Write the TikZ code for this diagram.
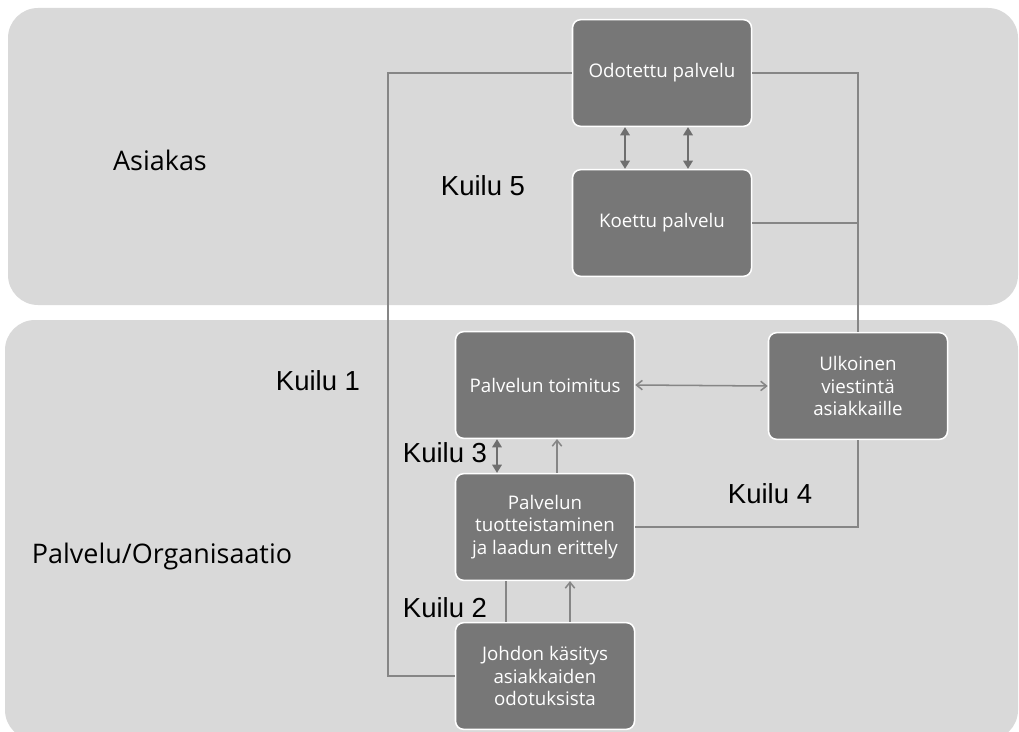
\documentclass[tikz,border=0pt]{standalone}
\usepackage{fontspec}
\setmainfont{Liberation Sans}
\newfontfamily\boxfont{Open Sans}
\usetikzlibrary{arrows.meta,calc}

\definecolor{bandgray}{HTML}{D9D9D9}
\definecolor{boxgray}{HTML}{777777}
\definecolor{linegray}{HTML}{868686}
\definecolor{arrowgray}{HTML}{6E6E6E}

\begin{document}
\begin{tikzpicture}[x=0.03cm, y=-0.03cm,
  stage/.style={draw=white, line width=1.3pt, fill=boxgray, rounded corners=7pt,
    minimum width=5.37cm, minimum height=3.2cm, text=white, align=center,
    font=\boxfont\fontsize{16}{19.2}\selectfont},
  gap/.style={font=\fontsize{23.5}{28}\selectfont},
  side/.style={font=\boxfont\fontsize{23}{28}\selectfont},
  conn/.style={draw=linegray, line width=1.3pt},
  thin arrow/.style={conn, {Straight Barb[length=5pt,width=8pt]}-{Straight Barb[length=5pt,width=8pt]}},
  up arrow/.style={conn, -{Straight Barb[length=5pt,width=8pt]}},
  thick arrow/.style={draw=arrowgray, line width=2.4pt, {Triangle[length=7pt,width=8pt]}-{Triangle[length=7pt,width=8pt]}}]
\useasboundingbox (0,0) rectangle (1019,731);
\clip (0,0) rectangle (1019,731);

% Bands
\fill[bandgray, rounded corners=0.9cm] (8,8) rectangle (1018,305);
\fill[bandgray, rounded corners=0.9cm] (5,320) rectangle (1018,740);

% Boxes
\node[stage] (odot) at (662,73) {Odotettu palvelu};
\node[stage] (koet) at (662,223) {Koettu palvelu};
\node[stage] (toim) at (545,385) {Palvelun toimitus};
\node[stage] (ulk) at (858,386) {Ulkoinen\\viestintä\\asiakkaille};
\node[stage] (tuot) at (545,527) {Palvelun\\tuotteistaminen\\ja laadun erittely};
\node[stage] (johd) at (545,676) {Johdon käsitys\\asiakkaiden\\odotuksista};

% Labels
\node[side] (asiakas) at (160,160) {Asiakas};
\node[side] (org) at (162,556) {Palvelu/Organisaatio};
\node[gap] (k5) at (483,186) {Kuilu 5};
\node[gap] (k1) at (318,381) {Kuilu 1};
\node[gap] (k3) at (445,453) {Kuilu 3};
\node[gap] (k4) at (770,494) {Kuilu 4};
\node[gap] (k2) at (445,608) {Kuilu 2};

% Kuilu 1 line
\coordinate (k1corner) at (388,676);
\draw[conn] (odot.west) -| (k1corner) -- (johd.west);

% Kuilu 4 lines
\draw[conn] (odot.east) -| (ulk.north);
\draw[conn] (koet.east) -- (koet.east -| ulk.north);
\draw[conn] (tuot.east) -| (ulk.south);

% Kuilu 5 arrows
\foreach \dx in {-37,26}
  \draw[thick arrow] ($(odot.south)+(\dx,0)$) -- ($(koet.north)+(\dx,0)$);

% Delivery and communication
\draw[thin arrow] (toim.east) -- (ulk.west);

% Kuilu 3
\draw[thick arrow, line width=1.7pt] ($(toim.south)+(-48,0)$) -- ($(tuot.north)+(-48,0)$);
\draw[up arrow] ($(tuot.north)+(12,0)$) -- ($(toim.south)+(12,0)$);

% Kuilu 2
\draw[conn] ($(johd.north)+(-39,0)$) -- ($(tuot.south)+(-39,0)$);
\draw[up arrow] ($(johd.north)+(25,0)$) -- ($(tuot.south)+(25,0)$);
\end{tikzpicture}
\end{document}
